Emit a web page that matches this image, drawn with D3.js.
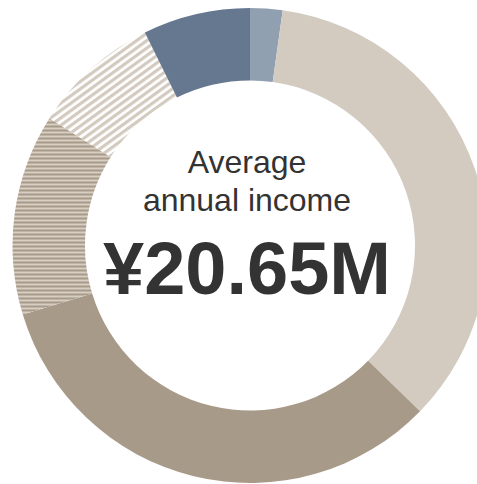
<!DOCTYPE html>
<html>
<head>
<meta charset="utf-8">
<script src="https://cdn.jsdelivr.net/npm/d3@7"></script>
<style>
  html, body { margin: 0; padding: 0; background: #fff; }
  svg { display: block; }
</style>
</head>
<body>
<svg id="chart" width="477" height="484"></svg>
<script>
// Income composition shares (%), clockwise from 12 o'clock
const categories = ["A", "B", "C", "D", "E", "F"];
const shares = [2.2, 35.1, 33.0, 13.7, 8.7, 7.3];
const fills = ["#91a0b0", "#d3cac0", "#a89a88", "url(#hstripe)", "url(#dstripe)", "#667790"];
const titleLines = ["Average", "annual income"];
const totalLabel = "¥20.65M";

const svg = d3.select("#chart");
const cx = 250, cy = 245.5;
const outerR = 237.5, innerR = 165;

// Stripe patterns
const defs = svg.append("defs");
const hp = defs.append("pattern")
  .attr("id", "hstripe").attr("patternUnits", "userSpaceOnUse")
  .attr("width", 8).attr("height", 4);
hp.append("rect").attr("width", 8).attr("height", 4).attr("fill", "#d6cdc3");
hp.append("rect").attr("width", 8).attr("height", 2).attr("fill", "#a89a88");

const dp = defs.append("pattern")
  .attr("id", "dstripe").attr("patternUnits", "userSpaceOnUse")
  .attr("width", 6).attr("height", 6)
  .attr("patternTransform", "rotate(-36)");
dp.append("rect").attr("width", 6).attr("height", 6).attr("fill", "#ffffff");
dp.append("rect").attr("width", 6).attr("height", 3.2).attr("fill", "#d3cac0");

const data = categories.map((c, i) => ({ cat: c, value: shares[i], fill: fills[i] }));
const pie = d3.pie().sort(null).value(d => d.value);
const arc = d3.arc().innerRadius(innerR).outerRadius(outerR);

const g = svg.append("g").attr("transform", `translate(${cx},${cy})`);
g.selectAll("path")
  .data(pie(data))
  .join("path")
  .attr("d", arc)
  .attr("fill", d => d.data.fill);

// Center labels
const tx = 247;
svg.selectAll("text.title")
  .data(titleLines)
  .join("text")
  .attr("class", "title")
  .attr("x", tx)
  .attr("y", (d, i) => 173 + i * 37.5)
  .attr("text-anchor", "middle")
  .attr("font-family", "Liberation Sans, Arial, sans-serif")
  .attr("font-size", 32)
  .attr("fill", "#333333")
  .text(d => d);

svg.append("text")
  .attr("x", tx)
  .attr("y", 294)
  .attr("text-anchor", "middle")
  .attr("font-family", "Liberation Sans, Arial, sans-serif")
  .attr("font-weight", "bold")
  .attr("font-size", 74)
  .attr("fill", "#333333")
  .text(totalLabel);
</script>
</body>
</html>
